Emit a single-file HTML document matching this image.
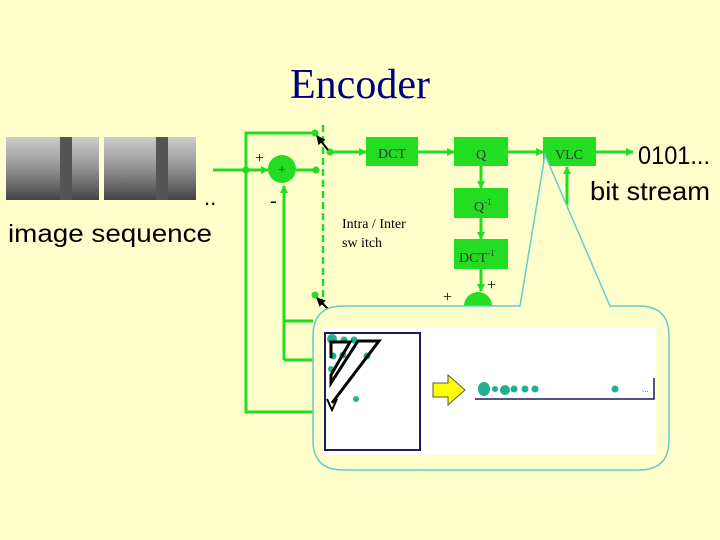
<!DOCTYPE html>
<html><head><style>
html,body{margin:0;padding:0;background:#ffffcc;}
svg{display:block}
</style></head><body>
<svg width="720" height="540" viewBox="0 0 720 540" xmlns="http://www.w3.org/2000/svg">
<defs>
<marker id="ga" markerWidth="8" markerHeight="8" refX="7" refY="4" orient="auto" markerUnits="userSpaceOnUse"><path d="M0,0 L8,4 L0,8 z" fill="#22dd22"/></marker>
<marker id="ka" markerWidth="9" markerHeight="9" refX="8" refY="4.5" orient="auto" markerUnits="userSpaceOnUse"><path d="M0,0 L9,4.5 L0,9 z" fill="#000"/></marker>
<linearGradient id="img" x1="0" y1="0" x2="0" y2="1"><stop offset="0" stop-color="#cccccc"/><stop offset="0.45" stop-color="#999"/><stop offset="1" stop-color="#444"/></linearGradient>
</defs>
<rect width="720" height="540" fill="#ffffcc"/>
<text x="360" y="98" text-anchor="middle" font-family="Liberation Serif, serif" font-size="42" fill="#000080">Encoder</text>
<rect x="6" y="137" width="93" height="63" fill="url(#img)"/>
<rect x="60" y="137" width="12" height="63" fill="#555"/>
<rect x="104" y="137" width="92" height="63" fill="url(#img)"/>
<rect x="156" y="137" width="12" height="63" fill="#555"/>
<text x="204" y="205" font-family="Liberation Sans, sans-serif" font-size="22" fill="#000">..</text>
<text x="8" y="242" font-family="Liberation Sans, sans-serif" font-size="25" fill="#000" textLength="204" lengthAdjust="spacingAndGlyphs">image sequence</text>
<g stroke="#22dd22" stroke-width="3" fill="none">
<polyline points="315,133 246,133 246,412 313,412"/>
<polyline points="284,360 313,360"/>
<polyline points="284,321 313,321"/>
<line x1="284" y1="360" x2="284" y2="186" marker-end="url(#ga)"/>
<line x1="213" y1="170" x2="268" y2="170" marker-end="url(#ga)"/>
<line x1="296" y1="170" x2="316" y2="170"/>
<line x1="330" y1="152" x2="366" y2="152" marker-end="url(#ga)"/>
<line x1="418" y1="152" x2="454" y2="152" marker-end="url(#ga)"/>
<line x1="508" y1="152" x2="543" y2="152" marker-end="url(#ga)"/>
<line x1="596" y1="152" x2="633" y2="152" marker-end="url(#ga)"/>
<line x1="481" y1="166" x2="481" y2="188" marker-end="url(#ga)"/>
<line x1="481" y1="218" x2="481" y2="239" marker-end="url(#ga)"/>
<line x1="481" y1="269" x2="481" y2="291" marker-end="url(#ga)"/>
<line x1="567" y1="205" x2="567" y2="167" marker-end="url(#ga)"/>
</g>
<line x1="323" y1="125" x2="323" y2="305" stroke="#22dd22" stroke-width="2.5" stroke-dasharray="7,4"/>
<g fill="#22dd22">
<circle cx="246" cy="170" r="3.5"/><circle cx="316" cy="170" r="3.5"/><circle cx="315" cy="133" r="3.5"/><circle cx="330" cy="152" r="3.5"/><circle cx="315" cy="295" r="3.5"/>
<circle cx="282" cy="169" r="14"/>
<circle cx="478" cy="306" r="14"/>
<rect x="366" y="137" width="52" height="29"/>
<rect x="454" y="137" width="54" height="29"/>
<rect x="543" y="137" width="53" height="29"/>
<rect x="454" y="188" width="54" height="30"/>
<rect x="454" y="239" width="54" height="30"/>
</g>
<line x1="328" y1="150" x2="317" y2="136" stroke="#000" stroke-width="2" marker-end="url(#ka)"/>
<line x1="328" y1="309" x2="317" y2="298" stroke="#000" stroke-width="2" marker-end="url(#ka)"/>
<g font-family="Liberation Serif, serif" fill="#000" font-size="14">
<text x="282" y="174" text-anchor="middle" fill="#333">+</text>
<text x="255" y="163" font-size="16">+</text>
<text x="270" y="207" font-size="20">-</text>
<text x="392" y="158" text-anchor="middle" fill="#333">DCT</text>
<text x="481" y="159" text-anchor="middle" fill="#333">Q</text>
<text x="569" y="159" text-anchor="middle" fill="#333">VLC</text>
<text x="474" y="211" fill="#333">Q<tspan font-size="9" dy="-6">-1</tspan></text>
<text x="459" y="262" fill="#333">DCT<tspan font-size="9" dy="-6">-1</tspan></text>
<text x="342" y="228">Intra / Inter</text>
<text x="342" y="247">sw itch</text>
<text x="443" y="302" font-size="16">+</text>
<text x="487" y="290" font-size="16">+</text>
</g>
<text x="638" y="164" font-family="Liberation Sans, sans-serif" font-size="25" textLength="72" lengthAdjust="spacingAndGlyphs">0101...</text>
<text x="590" y="200" font-family="Liberation Sans, sans-serif" font-size="26" textLength="120" lengthAdjust="spacingAndGlyphs">bit stream</text>
<path d="M343,306 L520,306 L545,155 L610,306 L639,306 Q669,306 669,336 L669,440 Q669,470 639,470 L343,470 Q313,470 313,440 L313,336 Q313,306 343,306 Z" fill="#ffffcc" stroke="#66cccc" stroke-width="1.5"/>
<rect x="323" y="328" width="333" height="127" fill="#fff"/>
<rect x="325" y="333" width="95" height="117" fill="#fff" stroke="#1a1a66" stroke-width="2"/>
<g fill="#20b090">
<circle cx="332" cy="339" r="5"/><circle cx="344" cy="340" r="3.5"/><circle cx="354" cy="340" r="3.5"/><circle cx="333" cy="356" r="3.5"/><circle cx="343" cy="355" r="3.5"/><circle cx="367" cy="356" r="3.5"/><circle cx="331" cy="369" r="3"/><circle cx="356" cy="399" r="3"/>
<ellipse cx="484" cy="389" rx="6" ry="7"/><circle cx="495" cy="389" r="3"/><circle cx="505" cy="390" r="5"/><circle cx="514" cy="389" r="3.5"/><circle cx="525" cy="389" r="3.5"/><circle cx="535" cy="389" r="3.5"/><circle cx="615" cy="389" r="3.5"/>
</g>
<polyline points="331,358 331,342 350,342 331,375 331,383 358,341 379,341 332,403" fill="none" stroke="#000" stroke-width="3" stroke-linejoin="miter"/>
<path d="M327,399 L332,410 L337,399" fill="none" stroke="#000" stroke-width="2"/>
<path d="M433,383 L448,383 L448,375 L465,390 L448,405 L448,397 L433,397 Z" fill="#ffff00" stroke="#555" stroke-width="1"/>
<polyline points="475,399 654,399 654,378" fill="none" stroke="#1a1a66" stroke-width="1.5"/>
<text x="642" y="392" font-size="8" fill="#666" font-family="Liberation Sans, sans-serif">...</text>
</svg>
</body></html>
